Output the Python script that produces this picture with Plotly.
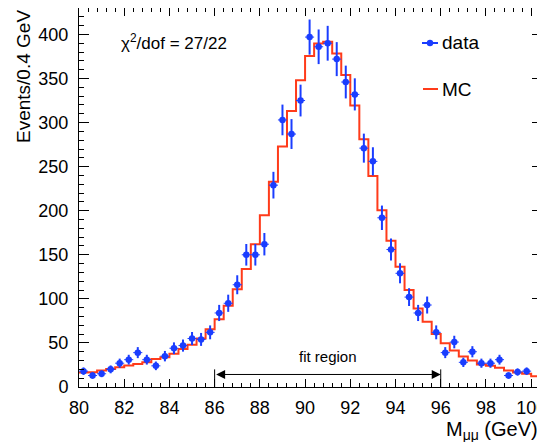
import numpy as np
import plotly.graph_objects as go

# ---------------- data ----------------
x_low = 80.0
bin_width = 0.4
data_counts = [18, 13, 15, 20, 27, 31, 39, 31, 24, 35, 44, 47, 55, 54, 62, 84, 95,
               116, 150, 150, 162, 229, 303, 287, 325, 397, 386, 390, 372, 346, 332,
               271, 256, 192, 156, 129, 102, 84, 93, 62, 39, 51, 28, 40, 27, 27, 31,
               13, 17, 18]
mc_counts = [16.4, 16.8, 18.7, 20.5, 22.4, 24.3, 26.2, 28, 31.9, 33.8, 37.6, 43.2, 47.8,
             55, 65.5, 77, 92.3, 110.8, 133.8, 162, 195, 233, 273, 313, 348, 375.5,
             389.8, 391.7, 378.5, 354, 319.5, 281, 239.5, 200.6, 166, 136.5, 110, 89,
             74, 60, 49.6, 41.3, 34.5, 30, 25.5, 24, 21.9, 18.7, 16.4, 14.9, 12.2]
x_tick_vals = [80, 82, 84, 86, 88, 90, 92, 94, 96, 98, 100]
y_tick_vals = [0, 50, 100, 150, 200, 250, 300, 350, 400]
fit_region = [86, 96]
chi2_text = "χ<sup>2</sup>/dof = 27/22"

data_x = [x_low + bin_width * (i + 0.5) for i in range(len(data_counts))]
data_err = [float(np.sqrt(v)) for v in data_counts]
mc_edges = [x_low + bin_width * i for i in range(len(mc_counts) + 1)]
mc_y = mc_counts + [mc_counts[-1]]

BLUE = "#1a3dff"
RED = "#ff3b1a"
FONT = "Liberation Sans, Arial, Helvetica, sans-serif"

# the page body has an 8px margin, so the figure is placed at (8, 8)
OFF = 8
W, H = 545 - OFF, 442 - OFF
L, R, T, B = 79 - OFF, 3, 0, 55
PW, PH = W - L - R, H - T - B


def px(xp):
    """page pixel x -> paper coordinate"""
    return (xp - OFF - L) / PW


def py(yp):
    """page pixel y -> paper coordinate"""
    return (H - B - (yp - OFF)) / PH


fig = go.Figure()

fig.add_trace(go.Scatter(
    x=mc_edges, y=mc_y, mode="lines", line=dict(color=RED, width=2, shape="hv"),
    name="MC", showlegend=False, hoverinfo="skip"))

fig.add_trace(go.Scatter(
    x=data_x, y=data_counts, mode="markers",
    marker=dict(color=BLUE, size=6.5, symbol="circle"),
    error_y=dict(type="data", array=data_err, color=BLUE, thickness=2, width=0),
    error_x=dict(type="constant", value=bin_width / 2, color=BLUE, thickness=1, width=0),
    name="data", showlegend=False))

axis_common = dict(showline=True, linecolor="black", linewidth=1, mirror="ticks",
                   ticks="inside", tickcolor="black", showgrid=False, zeroline=False,
                   ticklabeloverflow="allow",
                   tickfont=dict(family=FONT, size=18, color="black"))

fig.update_xaxes(range=[80, 100.48], tickvals=x_tick_vals, ticklen=8,
                 ticklabelstandoff=4,
                 minor=dict(dtick=0.4, ticks="inside", ticklen=4, tickcolor="black",
                            showgrid=False),
                 **axis_common)
fig.update_yaxes(range=[0, 430], tickvals=y_tick_vals, ticklen=10,
                 ticklabelstandoff=6,
                 minor=dict(dtick=10, ticks="inside", ticklen=5, tickcolor="black",
                            showgrid=False),
                 **axis_common)

shapes = []
annotations = []

# fit region markers
for xv in fit_region:
    shapes.append(dict(type="line", xref="x", yref="y", x0=xv, x1=xv, y0=0, y1=20,
                       line=dict(color="black", width=1)))
annotations.append(dict(xref="x", yref="y", axref="x", ayref="y",
                         x=fit_region[1], y=14.2, ax=fit_region[0], ay=14.2,
                         text="", showarrow=True, arrowside="end+start",
                         arrowhead=2, startarrowhead=2, arrowsize=1.8,
                         startarrowsize=1.8, arrowwidth=1, arrowcolor="black",
                         standoff=0, startstandoff=0))
annotations.append(dict(xref="x", yref="y", x=91.0, y=34.5, text="fit region",
                        showarrow=False, font=dict(family=FONT, size=15, color="black"),
                        xanchor="center", yanchor="middle"))

# chi2 text
annotations.append(dict(xref="paper", yref="paper", x=px(119), y=py(42),
                        text=chi2_text, showarrow=False, xanchor="left",
                        yanchor="middle", font=dict(family=FONT, size=17, color="black")))

# legend (drawn by hand)
shapes.append(dict(type="line", xref="paper", yref="paper", x0=px(422), x1=px(438),
                   y0=py(43), y1=py(43), line=dict(color=BLUE, width=2)))
shapes.append(dict(type="circle", xref="paper", yref="paper", x0=px(426.8), x1=px(433.2),
                   y0=py(46.2), y1=py(39.8), fillcolor=BLUE, line=dict(color=BLUE, width=0)))
annotations.append(dict(xref="paper", yref="paper", x=px(440), y=py(43), text="data",
                        showarrow=False, xanchor="left", yanchor="middle",
                        font=dict(family=FONT, size=19, color="black")))
shapes.append(dict(type="line", xref="paper", yref="paper", x0=px(423), x1=px(438),
                   y0=py(89), y1=py(89), line=dict(color=RED, width=2)))
annotations.append(dict(xref="paper", yref="paper", x=px(440), y=py(89), text="MC",
                        showarrow=False, xanchor="left", yanchor="middle",
                        font=dict(family=FONT, size=19, color="black")))

# axis titles
annotations.append(dict(xref="paper", yref="paper", x=px(24), y=py(8.5),
                        text="Events/0.4 GeV", textangle=-90, showarrow=False,
                        xanchor="center", yanchor="top",
                        font=dict(family=FONT, size=19, color="black")))
annotations.append(dict(xref="paper", yref="paper", x=px(539), y=py(430),
                        text="M<sub>μμ</sub> (GeV)", showarrow=False,
                        xanchor="right", yanchor="middle", borderpad=0,
                        font=dict(family=FONT, size=20, color="black")))

fig.update_layout(width=W, height=H, margin=dict(l=L, r=R, t=T, b=B, autoexpand=False),
                  paper_bgcolor="white", plot_bgcolor="white", showlegend=False,
                  shapes=shapes, annotations=annotations)

fig.write_html("out.html")
